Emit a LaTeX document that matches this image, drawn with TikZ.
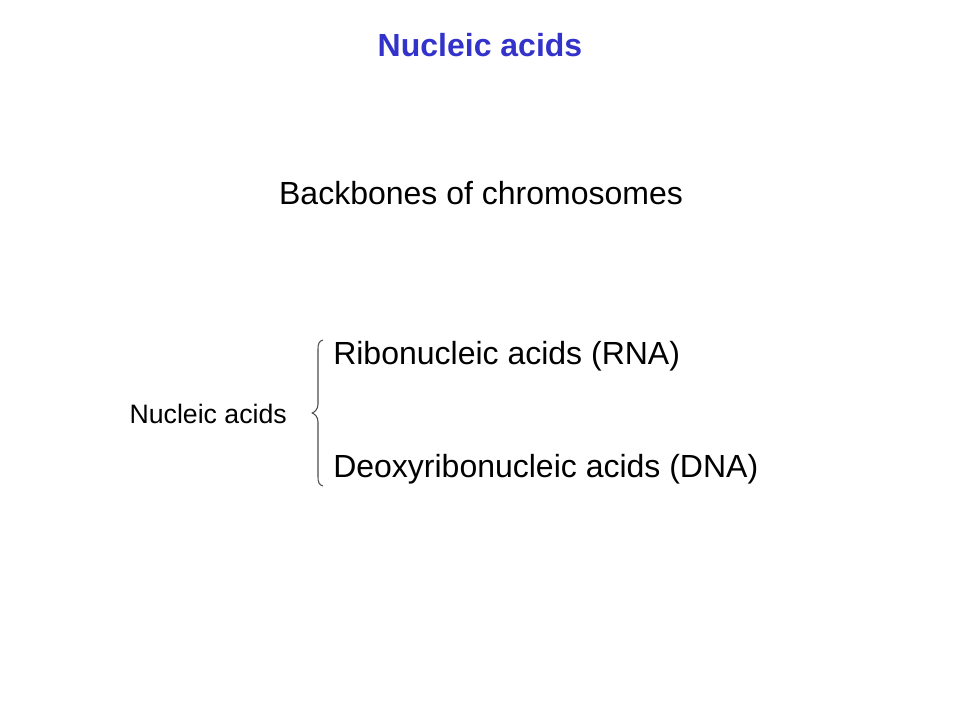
\documentclass[tikz,border=0pt]{standalone}
\usepackage{fontspec}
\setmainfont{Liberation Sans}
\usetikzlibrary{calc}
\definecolor{titleblue}{RGB}{51,51,204}
\begin{document}
\begin{tikzpicture}[%
x=0.75pt, y=-0.75pt,
label/.style={inner sep=0pt, font=\fontsize{24}{28}\selectfont},
]
\useasboundingbox (0,0) rectangle (960,720);
%% title;
\node [label, text=titleblue, font=\fontsize{24}{28}\selectfont\bfseries] (title) at (480,45) {Nucleic acids};
%% label;
\node [label] (backbones) at (481,193) {Backbones of chromosomes};
%% label;
\node [label, anchor=west] (rna) at (333,356) {Ribonucleic acids (RNA)};
%% label;
\node [label, anchor=west] (dna) at (333,469) {Deoxyribonucleic acids (DNA)};
%% label;
\node [label, anchor=east, font=\fontsize{20}{24}\selectfont] (nucleic) at (287,414) {Nucleic acids};
%% brace;
\draw [color=black!70, line width=0.8pt, line join=round]
  (323,340) .. controls (319,341) and (318,344) .. (318,349)
  -- (318,404) .. controls (318,409) and (315,412) .. (312,413)
  .. controls (315,414) and (318,417) .. (318,422)
  -- (318,477) .. controls (318,482) and (319,485) .. (323,486);
\end{tikzpicture}
\end{document}
